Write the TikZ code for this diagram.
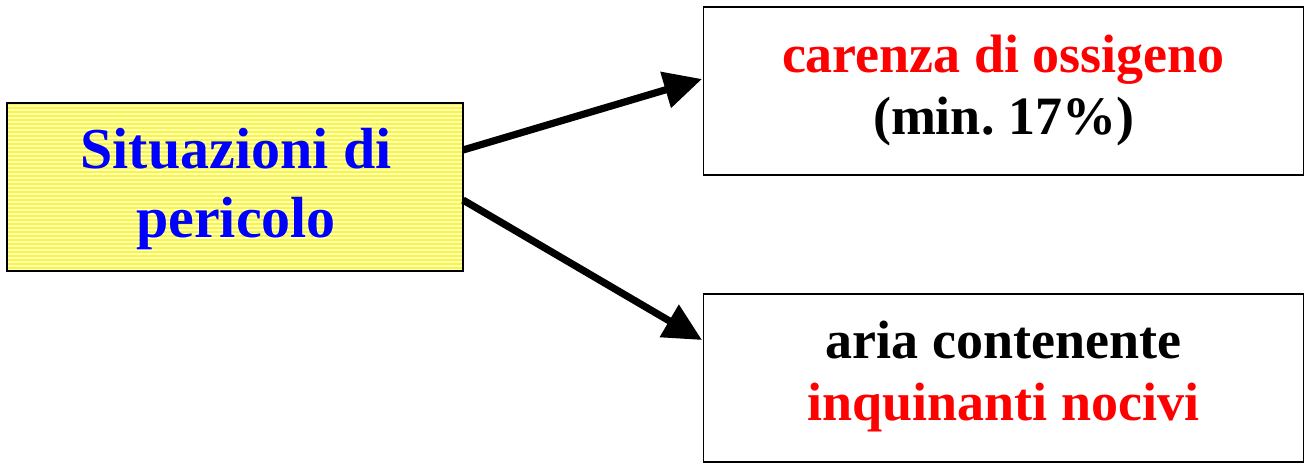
\documentclass[tikz,border=0pt]{standalone}
\usepackage{fontspec}
\setmainfont{Liberation Serif}
\usetikzlibrary{arrows.meta}
\definecolor{hazyellow}{RGB}{255,255,0}
\definecolor{txtblue}{RGB}{0,0,255}
\definecolor{txtred}{RGB}{255,0,0}
\frenchspacing
\begin{document}
\begin{tikzpicture}[x=0.5pt,y=-0.5pt,
  box/.style={draw=black,line width=0.9pt,minimum width=300pt,minimum height=84pt,inner sep=0pt},
  boxtext/.style={align=center,font=\fontsize{27}{31}\selectfont\bfseries},
  conn/.style={line width=3.6pt,-{Triangle[length=19pt,width=18pt]}}]
\useasboundingbox (0,0) rectangle (1306,463);
% yellow box
\fill[hazyellow] (7,103) rectangle (463,271);
\foreach \yy in {106,110,...,270} \draw[white,line width=0.6pt] (8,\yy) -- (462,\yy);
\node[draw=black,line width=0.9pt,minimum width=228pt,minimum height=84pt,inner sep=0pt] (src) at (235,187) {};
\node[align=center,font=\fontsize{29}{34.5}\selectfont\bfseries,text=txtblue] (srct) at (236,189) {Situazioni di\\pericolo};
% right boxes
\node[box] (top) at (1003.5,91) {};
\node[boxtext] (topt) at (1003.5,91) {\textcolor{txtred}{carenza di ossigeno}\\(min. 17\%)};
\node[box] (bot) at (1003.5,378) {};
\node[boxtext] (bott) at (1003.5,376) {aria contenente\\\textcolor{txtred}{inquinanti nocivi}};
% connectors
\coordinate (s1) at (463,150);
\coordinate (s2) at (463,200);
\coordinate (t1) at (702,79);
\coordinate (t2) at (702,340);
\draw[conn] (s1) -- (t1);
\draw[conn] (s2) -- (t2);
\end{tikzpicture}
\end{document}
